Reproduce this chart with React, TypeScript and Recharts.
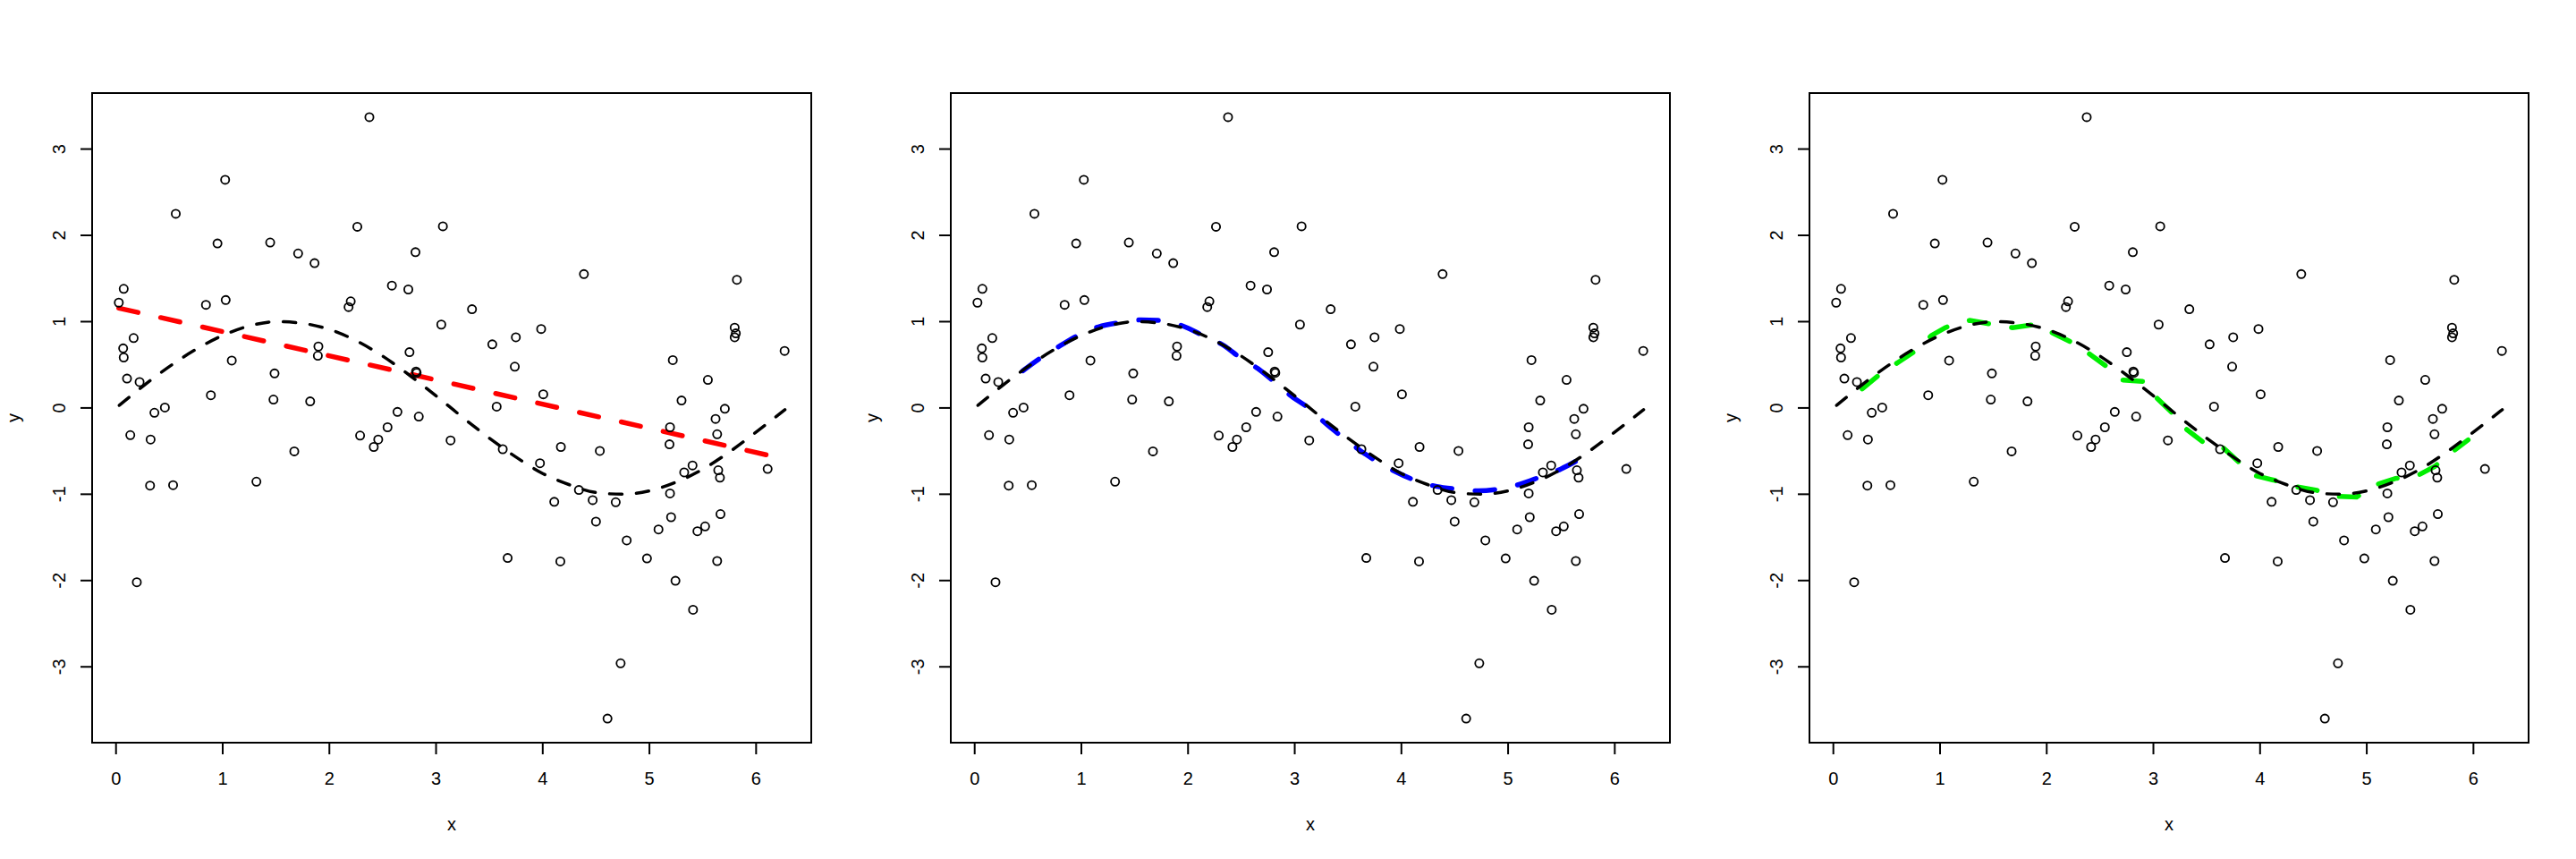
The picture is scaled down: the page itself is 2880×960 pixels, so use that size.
import React from 'react';
import { ComposedChart, Scatter, Line, XAxis, YAxis, ReferenceArea } from 'recharts';

// observed points (x, y)
const xs = [
  0.026, 0.072, 0.067, 0.072, 0.165, 0.103, 0.221, 0.134, 0.195, 0.36,
  0.458, 0.324, 0.319, 0.535, 0.56, 0.843, 0.889, 0.951, 1.023, 1.028,
  1.085, 1.316, 1.445, 1.486, 1.476, 1.671, 1.707, 1.82, 1.861, 1.897,
  1.892, 2.18, 2.2, 2.262, 2.288, 2.375, 2.416, 2.458, 2.545, 2.586,
  2.638, 2.74, 2.751, 2.807, 2.812, 2.818, 2.838, 3.049, 3.064, 3.136,
  3.337, 3.527, 3.568, 3.625, 3.671, 3.738, 3.748, 3.974, 3.985, 4.005,
  4.108, 4.17, 4.165, 4.339, 4.386, 4.468, 4.499, 4.535, 4.607, 4.684,
  4.73, 4.787, 4.977, 5.085, 5.188, 5.193, 5.193, 5.203, 5.219, 5.244,
  5.301, 5.326, 5.404, 5.409, 5.45, 5.522, 5.548, 5.62, 5.635, 5.635,
  5.645, 5.661, 5.666, 5.707, 5.799, 5.81, 5.799, 5.82, 6.108, 6.267,
];
const ys = [
  1.22, 1.38, 0.69, 0.585, 0.81, 0.34, 0.3, -0.315, -2.02, -0.056,
  0.005, -0.366, -0.9, -0.895, 2.25, 1.195, 0.147, 1.906, 2.644, 1.25,
  0.549, -0.854, 1.917, 0.4, 0.097, -0.503, 1.79, 0.076, 1.678, 0.712,
  0.605, 1.169, 1.235, 2.1, -0.32, 3.37, -0.452, -0.366, -0.224, 1.418,
  -0.046, 1.373, 0.646, 1.805, 0.422, 0.407, -0.1, 0.966, 2.105, -0.376,
  1.144, 0.737, 0.015, -0.478, -1.739, 0.478, 0.819, -0.641, 0.915, 0.158,
  -1.088, -0.452, -1.779, -0.951, 1.551, -1.068, -1.317, -0.498, -3.6, -1.093,
  -2.959, -1.535, -1.744, -1.408, -0.422, -0.224, -0.991, -1.266, 0.554, -2.003,
  0.086, -0.747, -0.666, -2.339, -1.429, -1.373, 0.325, -0.127, -0.305, -1.774,
  -0.722, -0.808, -1.23, -0.01, 0.93, 0.864, 0.819, 1.485, -0.707, 0.661,
];

// true curve (black dashed)
const trueX = [0.03, 0.25, 0.5, 0.75, 1.0, 1.25, 1.5, 1.75, 2.0, 2.25, 2.5, 2.75, 3.0, 3.25, 3.5, 3.75, 4.0, 4.25, 4.5, 4.75, 5.0, 5.25, 5.5, 5.75, 6.0, 6.27];
const trueY = [0.03, 0.25, 0.48, 0.68, 0.84, 0.95, 1.0, 0.98, 0.91, 0.78, 0.6, 0.38, 0.14, -0.11, -0.35, -0.57, -0.76, -0.89, -0.98, -1.0, -0.96, -0.86, -0.71, -0.51, -0.28, -0.02];

// linear fit (red)
const linX = [0.026, 6.267];
const linY = [1.157, -0.591];

// smooth fit (blue)
const blueX = [0.45, 0.63, 0.8, 1.0, 1.16, 1.36, 1.56, 1.77, 1.95, 2.14, 2.34, 2.49, 2.65, 2.82, 2.97, 3.15, 3.28, 3.44, 3.61, 3.77, 3.93, 4.13, 4.33, 4.52, 4.72, 4.91, 5.11, 5.3, 5.49, 5.69];
const blueY = [0.43, 0.59, 0.72, 0.86, 0.94, 0.99, 1.02, 1.01, 0.95, 0.84, 0.72, 0.58, 0.46, 0.29, 0.135, -0.02, -0.17, -0.33, -0.49, -0.62, -0.73, -0.84, -0.91, -0.94, -0.96, -0.94, -0.885, -0.8, -0.71, -0.58];

// local fit (green)
const greenX = [0.27, 0.445, 0.61, 0.78, 0.92, 1.05, 1.12, 1.28, 1.51, 1.68, 1.9, 2.07, 2.24, 2.39, 2.57, 2.7, 2.92, 3.03, 3.19, 3.3, 3.47, 3.63, 3.8, 3.94, 4.14, 4.32, 4.53, 4.68, 4.905, 5.06, 5.27, 5.45, 5.635, 5.79, 5.95];
const greenY = [0.22, 0.4, 0.53, 0.67, 0.84, 0.93, 0.97, 1.015, 0.965, 0.93, 0.97, 0.86, 0.756, 0.635, 0.473, 0.324, 0.307, 0.117, -0.073, -0.238, -0.4, -0.435, -0.626, -0.78, -0.84, -0.909, -0.953, -1.023, -1.033, -0.9, -0.816, -0.8, -0.68, -0.52, -0.37];

const xTicks = [0, 1, 2, 3, 4, 5, 6];
const yTicks = [-3, -2, -1, 0, 1, 2, 3];

const X_DOMAIN: [number, number] = [-0.224, 6.517];
const Y_DOMAIN: [number, number] = [-3.879, 3.649];

const zip = (a: number[], b: number[]) => a.map((x, i) => ({ x, y: b[i] }));
const points = zip(xs, ys);
const trueCurve = zip(trueX, trueY);

const FONT = '"Liberation Sans", Arial, Helvetica, sans-serif';

const Ring = (props: any) => (
  <circle cx={props.cx} cy={props.cy} r={4.6} fill="none" stroke="#000" strokeWidth={1.8} />
);

const YTick = (props: any) => {
  const { x, y, payload } = props;
  const bx = x - 12;
  return (
    <text x={bx} y={y} transform={`rotate(-90 ${bx} ${y})`} textAnchor="middle" fontSize={20} fontFamily={FONT} fill="#000">
      {String(payload.value)}
    </text>
  );
};

const YLabel = (props: any) => {
  const vb = props.viewBox;
  const bx = vb.x - 21;
  const cy = vb.y + vb.height / 2;
  return (
    <text x={bx} y={cy} transform={`rotate(-90 ${bx} ${cy})`} textAnchor="middle" fontSize={20} fontFamily={FONT} fill="#000">
      y
    </text>
  );
};

type Fit = { data: { x: number; y: number }[]; color: string; type: 'linear' | 'monotone' };

const Panel = ({ fit }: { fit: Fit }) => (
  <ComposedChart width={960} height={960} margin={{ top: 104, right: 53, bottom: 100, left: 43 }}>
    <XAxis
      type="number"
      dataKey="x"
      domain={X_DOMAIN}
      allowDataOverflow
      ticks={xTicks}
      axisLine={false}
      tickSize={13}
      tickMargin={20}
      height={30}
      tickLine={{ stroke: '#000', strokeWidth: 2 }}
      tick={{ fill: '#000', fontSize: 20, fontFamily: FONT }}
      label={{ value: 'x', position: 'bottom', offset: 54, fill: '#000', fontSize: 20, fontFamily: FONT }}
    />
    <YAxis
      type="number"
      dataKey="y"
      domain={Y_DOMAIN}
      allowDataOverflow
      ticks={yTicks}
      axisLine={false}
      width={60}
      tickSize={13}
      tickMargin={5}
      tickLine={{ stroke: '#000', strokeWidth: 2 }}
      tick={<YTick />}
      label={<YLabel />}
    />
    <ReferenceArea x1={X_DOMAIN[0]} x2={X_DOMAIN[1]} y1={Y_DOMAIN[0]} y2={Y_DOMAIN[1]} fill="none" stroke="#000" strokeWidth={2} />
    <Scatter data={points} dataKey="y" shape={<Ring />} isAnimationActive={false} />
    <Line
      data={fit.data}
      dataKey="y"
      type={fit.type}
      stroke={fit.color}
      strokeWidth={5.5}
      strokeDasharray="22 26"
      strokeLinecap="round"
      dot={false}
      activeDot={false}
      isAnimationActive={false}
    />
    <Line
      data={trueCurve}
      dataKey="y"
      type="monotone"
      stroke="#000"
      strokeWidth={3.5}
      strokeDasharray="14 16"
      strokeLinecap="round"
      dot={false}
      activeDot={false}
      isAnimationActive={false}
    />
  </ComposedChart>
);

const fits: Fit[] = [
  { data: zip(linX, linY), color: '#FF0000', type: 'linear' },
  { data: zip(blueX, blueY), color: '#0000FF', type: 'monotone' },
  { data: zip(greenX, greenY), color: '#00EE00', type: 'linear' },
];

export default function App() {
  return (
    <div style={{ position: 'absolute', left: 0, top: 0, width: 2880, height: 960, background: '#fff', display: 'flex' }}>
      {fits.map((f, i) => (
        <Panel key={i} fit={f} />
      ))}
    </div>
  );
}
